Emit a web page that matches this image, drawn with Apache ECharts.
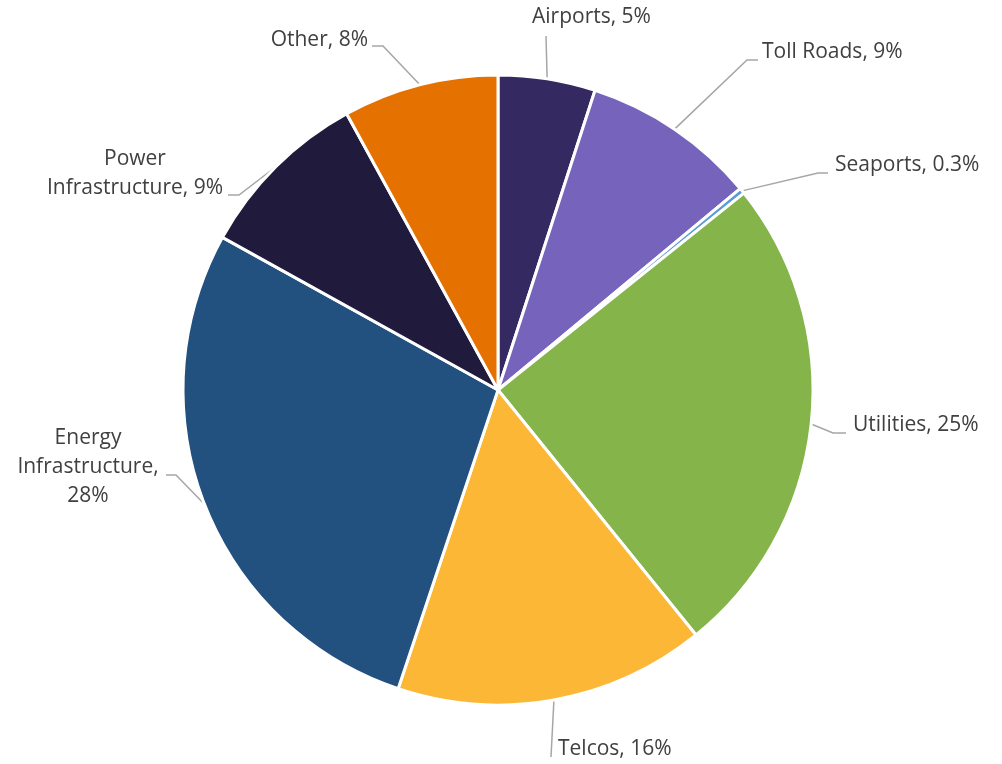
<!DOCTYPE html>
<html>
<head>
<meta charset="utf-8">
<script src="https://cdn.jsdelivr.net/npm/echarts@6/dist/echarts.min.js"></script>
<style>
  html, body { margin: 0; padding: 0; background: #ffffff; }
  #chart { width: 1002px; height: 764px; }
</style>
</head>
<body>
<div id="chart"></div>
<script>
// Portfolio split by sector, in percent, clockwise from 12 o'clock
const sectors = ['Airports', 'Toll Roads', 'Seaports', 'Utilities', 'Telcos',
                 'Energy Infrastructure', 'Power Infrastructure', 'Other'];
const shares  = [5, 9, 0.3, 25, 16, 28, 9, 8];
const colours = ['#352961', '#7563BC', '#5B9BD5', '#84B44A', '#FBB735',
                 '#22507F', '#201B3D', '#E57200'];

// Where each callout sits: text anchor, alignment, the point where the
// leader meets the text, and an optional elbow before that point.
const callouts = [
  { x: 532, y: 17,  align: 'left',   end: [546, 36] },
  { x: 762, y: 52,  align: 'left',   end: [758, 60],  elbow: [747, 60] },
  { x: 835, y: 165, align: 'left',   end: [828, 173], elbow: [818, 173] },
  { x: 853, y: 425, align: 'left',   end: [846, 433], elbow: [833, 433] },
  { x: 558, y: 749, align: 'left',   end: [551, 757] },
  { x: 88,  y: 467, align: 'center', end: [166, 475], elbow: [176, 475], wrapName: true, wrapValue: true },
  { x: 135, y: 174, align: 'center', end: [228, 195], elbow: [239, 195], wrapName: true },
  { x: 368, y: 40,  align: 'right',  end: [372, 46],  elbow: [383, 46] }
];

function calloutText(p) {
  const c = callouts[p.dataIndex];
  const name = c.wrapName ? p.name.replace(' ', '\n') : p.name;
  return name + ',' + (c.wrapValue ? '\n' : ' ') + p.value + '%';
}

const chart = echarts.init(document.getElementById('chart'), null, { renderer: 'canvas' });

chart.setOption({
  backgroundColor: '#ffffff',
  animation: false,
  series: [{
    type: 'pie',
    center: [498, 390],
    radius: 315,
    startAngle: 90,
    clockwise: true,
    avoidLabelOverlap: false,
    data: sectors.map((name, i) => ({
      name: name,
      value: shares[i],
      itemStyle: { color: colours[i] }
    })),
    itemStyle: { borderColor: '#ffffff', borderWidth: 3 },
    label: {
      show: true,
      position: 'outside',
      formatter: calloutText,
      fontFamily: '"Open Sans", "Noto Sans", sans-serif',
      fontSize: 21,
      lineHeight: 29,
      color: '#404040'
    },
    labelLine: {
      show: true,
      length: 20,
      length2: 10,
      lineStyle: { color: '#A6A6A6', width: 1.5 }
    },
    labelLayout: function (params) {
      const c = callouts[params.dataIndex];
      const start = params.labelLinePoints ? params.labelLinePoints[0] : null;
      const out = {
        x: c.x,
        y: c.y,
        align: c.align,
        verticalAlign: 'middle'
      };
      if (start) {
        out.labelLinePoints = [start, c.elbow || c.end, c.end];
      }
      return out;
    },
    emphasis: { disabled: true }
  }]
});
</script>
</body>
</html>
